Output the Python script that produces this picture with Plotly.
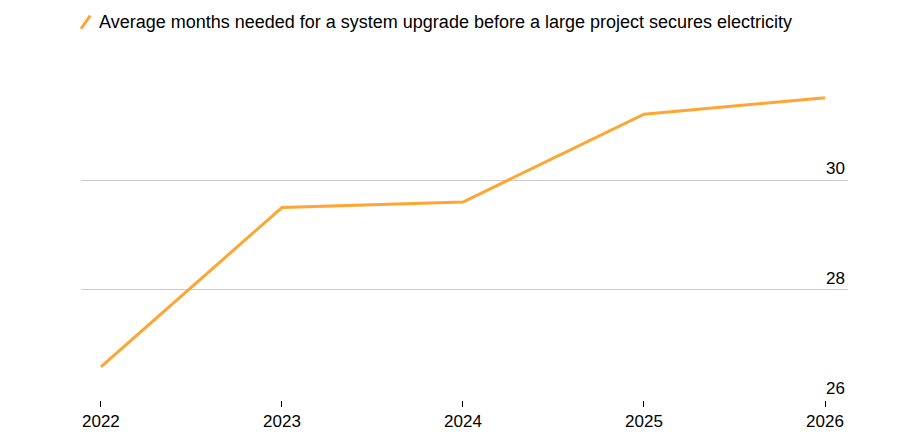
import plotly.graph_objects as go

years = [2022, 2023, 2024, 2025, 2026]
months = [26.6, 29.5, 29.6, 31.2, 31.5]
y_ticks = [26, 28, 30, 32]
legend_text = "Average months needed for a system upgrade before a large project secures electricity"

orange = "#FFA532"
font_family = "Liberation Sans, Arial, sans-serif"

fig = go.Figure()
fig.add_trace(go.Scatter(x=years, y=months, mode="lines",
                         line=dict(color=orange, width=3), showlegend=False,
                         cliponaxis=False))

# legend-like header with slanted swatch
fig.add_shape(type="line", xref="paper", yref="paper",
              x0=0.0, x1=0.012, y0=1.125, y1=1.165,
              line=dict(color=orange, width=3))
fig.add_annotation(text=legend_text, xref="paper", yref="paper",
                   x=0.021, y=1.145, xanchor="left", yanchor="middle",
                   showarrow=False, font=dict(size=18, color="#000000", family=font_family))

fig.update_layout(
    width=900, height=438,
    margin=dict(l=73, r=60, t=62, b=46, autoexpand=False),
    paper_bgcolor="white", plot_bgcolor="white",
    font=dict(family=font_family, color="#000000"),
)
fig.update_xaxes(range=[2022 - 0.11, 2026 + 0.127], tickvals=years,
                 showgrid=False, zeroline=False, showline=False, automargin=False,
                 ticks="outside", ticklen=6, tickcolor="#000000",
                 tickfont=dict(size=17, color="#000000"))
fig.update_yaxes(range=[25.995, 32.005], tickvals=y_ticks, side="right",
                 ticklabelposition="inside top", showgrid=True, automargin=False,
                 gridcolor="#cccccc", gridwidth=1, zeroline=False, showline=False,
                 tickfont=dict(size=17, color="#000000"))

fig.write_html("out.html")
